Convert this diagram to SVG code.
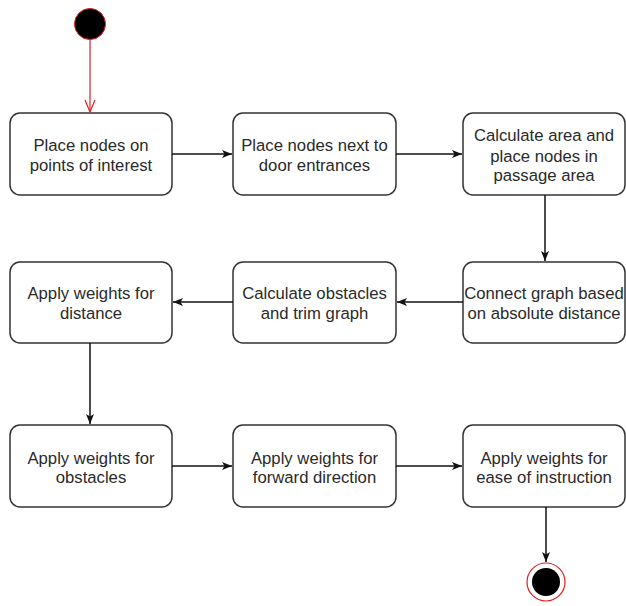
<svg xmlns="http://www.w3.org/2000/svg" width="626" height="606" viewBox="0 0 626 606">
<style>
.box{fill:#fff;stroke:#333;stroke-width:1.5}
.t{font-family:"Liberation Sans",Arial,sans-serif;font-size:16.7px;fill:#2a2a2a;text-anchor:middle}
.c{fill:none;stroke:#111;stroke-width:1.5}
.r{fill:none;stroke:#e02020;stroke-width:1.2}
</style>
<defs>
<marker id="a" markerWidth="11" markerHeight="10" refX="10" refY="5" orient="auto" markerUnits="userSpaceOnUse">
<path d="M0,1 L10,5 L0,9 L2.5,5 Z" fill="#111"/>
</marker>
<marker id="o" markerWidth="12" markerHeight="14" refX="6" refY="13" orient="0" markerUnits="userSpaceOnUse">
<path d="M1,1 L6,13 L11,1" fill="none" stroke="#e02020" stroke-width="1.2"/>
</marker>
</defs>
<g id="start"><circle cx="90" cy="24" r="15.5" fill="#000" stroke="#e02020" stroke-width="1"/></g>
<g id="n1"><rect class="box" x="10" y="113" width="162" height="82" rx="10"/><text class="t" x="91" y="151">Place nodes on</text><text class="t" x="91" y="171">points of interest</text></g>
<g id="n2"><rect class="box" x="233" y="113" width="163" height="82" rx="10"/><text class="t" x="314.5" y="151">Place nodes next to</text><text class="t" x="314.5" y="171">door entrances</text></g>
<g id="n3"><rect class="box" x="463" y="113" width="162" height="82" rx="10"/><text class="t" x="544" y="141">Calculate area and</text><text class="t" x="544" y="162">place nodes in</text><text class="t" x="544" y="181">passage area</text></g>
<g id="n4"><rect class="box" x="463" y="262" width="162" height="81" rx="10"/><text class="t" x="544" y="299">Connect graph based</text><text class="t" x="544" y="319">on absolute distance</text></g>
<g id="n5"><rect class="box" x="233" y="262" width="163" height="81" rx="10"/><text class="t" x="314.5" y="299">Calculate obstacles</text><text class="t" x="314.5" y="319">and trim graph</text></g>
<g id="n6"><rect class="box" x="10" y="262" width="162" height="81" rx="10"/><text class="t" x="91" y="299">Apply weights for</text><text class="t" x="91" y="319">distance</text></g>
<g id="n7"><rect class="box" x="10" y="425" width="162" height="82" rx="10"/><text class="t" x="91" y="464">Apply weights for</text><text class="t" x="91" y="483">obstacles</text></g>
<g id="n8"><rect class="box" x="233" y="425" width="163" height="82" rx="10"/><text class="t" x="314.5" y="464">Apply weights for</text><text class="t" x="314.5" y="483">forward direction</text></g>
<g id="n9"><rect class="box" x="463" y="425" width="162" height="82" rx="10"/><text class="t" x="544" y="464">Apply weights for</text><text class="t" x="544" y="483">ease of instruction</text></g>
<g id="end"><circle cx="546" cy="582" r="19" fill="#fff" stroke="#e02020" stroke-width="1.2"/><circle cx="546" cy="582" r="14" fill="#000"/></g>
<g id="connectors">
<line class="r" x1="90" y1="40" x2="90" y2="112" marker-end="url(#o)"/>
<line class="c" x1="172" y1="154" x2="232" y2="154" marker-end="url(#a)"/>
<line class="c" x1="396" y1="154" x2="462" y2="154" marker-end="url(#a)"/>
<line class="c" x1="545" y1="195" x2="545" y2="261" marker-end="url(#a)"/>
<line class="c" x1="463" y1="302" x2="397" y2="302" marker-end="url(#a)"/>
<line class="c" x1="233" y1="302" x2="173" y2="302" marker-end="url(#a)"/>
<line class="c" x1="90" y1="343" x2="90" y2="424" marker-end="url(#a)"/>
<line class="c" x1="172" y1="466" x2="232" y2="466" marker-end="url(#a)"/>
<line class="c" x1="396" y1="466" x2="462" y2="466" marker-end="url(#a)"/>
<line class="c" x1="546" y1="507" x2="546" y2="562" marker-end="url(#a)"/>
</g>
</svg>
